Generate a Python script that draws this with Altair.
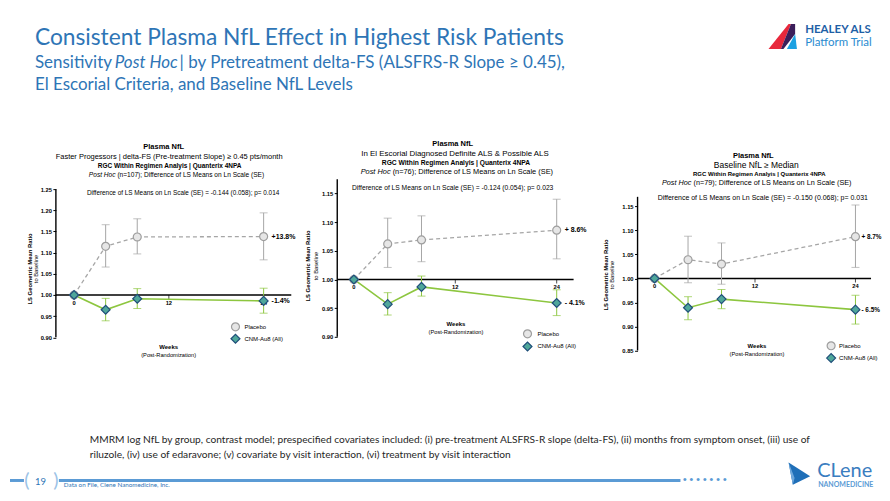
import altair as alt
import pandas as pd

FONT = "Liberation Sans"
HFONT = "Lato"
BLUE = "#2E75B6"
GRAY = "#A6A6A6"
GREEN = "#8DC63F"

weeks = [0, 4, 8, 24]
x_tick_values = [0, 12, 24]

# Panel 1: faster progressors
p1_pbo = [1.000, 1.115, 1.137, 1.138]
p1_pbo_lo = [1.000, 1.066, 1.097, 1.083]
p1_pbo_hi = [1.000, 1.166, 1.180, 1.194]
p1_cnm = [1.000, 0.965, 0.991, 0.986]
p1_cnm_lo = [1.000, 0.939, 0.968, 0.957]
p1_cnm_hi = [1.000, 0.992, 1.015, 1.016]

# Panel 2: El Escorial definite & possible
p2_pbo = [1.000, 1.062, 1.069, 1.086]
p2_pbo_lo = [1.000, 1.021, 1.031, 1.036]
p2_pbo_hi = [1.000, 1.107, 1.111, 1.140]
p2_cnm = [1.000, 0.957, 0.987, 0.959]
p2_cnm_lo = [1.000, 0.938, 0.971, 0.937]
p2_cnm_hi = [1.000, 0.977, 1.006, 0.982]

# Panel 3: baseline NfL >= median
p3_pbo = [1.000, 1.039, 1.030, 1.087]
p3_pbo_lo = [1.000, 0.991, 0.988, 1.023]
p3_pbo_hi = [1.000, 1.088, 1.074, 1.153]
p3_cnm = [1.000, 0.939, 0.957, 0.935]
p3_cnm_lo = [1.000, 0.914, 0.937, 0.905]
p3_cnm_hi = [1.000, 0.962, 0.977, 0.965]

p1_ticks = [0.90, 0.95, 1.00, 1.05, 1.10, 1.15, 1.20, 1.25]
p2_ticks = [0.90, 0.95, 1.00, 1.05, 1.10, 1.15]
p3_ticks = [0.85, 0.90, 0.95, 1.00, 1.05, 1.10, 1.15]

pct_labels = [["+13.8%", "-1.4%"], ["+ 8.6%", "- 4.1%"], ["+ 8.7%", "- 6.5%"]]
subtitles = ["Faster Progessors | delta-FS (Pre-treatment Slope) \u2265 0.45 pts/month",
             "In El Escorial Diagnosed Definite ALS & Possible ALS",
             "Baseline NfL \u2265 Median"]
n_values = ["107", "76", "79"]
diff_texts = ["Difference of LS Means on Ln Scale (SE) = -0.144 (0.058); p= 0.014",
              "Difference of LS Means on Ln Scale (SE) = -0.124 (0.054); p= 0.023",
              "Difference of LS Means on Ln Scale (SE) = -0.150 (0.068); p= 0.031"]

# Arial / Liberation Sans advance widths (per 1000 em) for centering mixed-style lines
_W = {' ': 278, '(': 333, ')': 333, ',': 278, '-': 333, '.': 278, '/': 278, ';': 278,
      ':': 278, '=': 584, '|': 260, '&': 667, '%': 889, '+': 584}
for ch, w in zip("ABCDEFGHIJKLMNOPQRSTUVWXYZ",
                 [667, 667, 722, 722, 667, 611, 778, 722, 278, 500, 667, 556, 833, 722, 778,
                  667, 778, 722, 667, 611, 722, 667, 944, 667, 667, 611]):
    _W[ch] = w
for ch, w in zip("abcdefghijklmnopqrstuvwxyz",
                 [556, 556, 500, 556, 556, 278, 556, 556, 222, 222, 500, 222, 833, 556, 556,
                  556, 556, 333, 500, 278, 556, 500, 722, 500, 500, 500]):
    _W[ch] = w
for ch in "0123456789":
    _W[ch] = 556


def aw(s, size):
    return sum(_W.get(ch, 556) for ch in s) * size / 1000.0


def txt(text, x, y, size, color="black", weight="normal", style="normal", align="left",
        baseline="middle", font=FONT, angle=None):
    kw = dict(fontSize=size, color=color, fontWeight=weight, fontStyle=style, align=align,
              baseline=baseline, font=font)
    if angle is not None:
        kw["angle"] = angle
    return alt.Chart(pd.DataFrame({"t": [text]})).mark_text(**kw).encode(
        x=alt.value(x), y=alt.value(y), text="t:N")


def shape(path, x, y, size, color):
    return alt.Chart(pd.DataFrame({"s": [0]})).mark_point(
        shape=path, filled=True, size=size, color=color, opacity=1, strokeWidth=0
    ).encode(x=alt.value(x), y=alt.value(y))


def hrule(x1, x2, y, color, width):
    return alt.Chart(pd.DataFrame({"s": [0]})).mark_rule(color=color, strokeWidth=width).encode(
        x=alt.value(x1), x2=alt.value(x2), y=alt.value(y))


# all panel views share the same top edge (slide y = 179); local coordinates below
PANELS = [
    dict(pbo=p1_pbo, pbo_lo=p1_pbo_lo, pbo_hi=p1_pbo_hi, cnm=p1_cnm, cnm_lo=p1_cnm_lo, cnm_hi=p1_cnm_hi,
         W=282, H=158.5, ydom=[0.90, 1.2736], ytop=1.25, yticks=p1_ticks, xdom=[-2.30, 33.32], xrule=27.5,
         cxs=[108, 113.5, 114, 121], ty=[-32, -22, -13.5, -4.5], tsz=[7.5, 7.5, 6.5, 6.6],
         dxy=(127.5, 13.4), dsz=6.4,
         wk=(113, 168), post=(113, 176), leg=(180, 148, 160, 189), yt=(-26, -19.5, 90), pdx=8, psz=7),
    dict(pbo=p2_pbo, pbo_lo=p2_pbo_lo, pbo_hi=p2_pbo_hi, cnm=p2_cnm, cnm_lo=p2_cnm_lo, cnm_hi=p2_cnm_hi,
         W=301, H=158, ydom=[0.90, 1.175], ytop=1.175, yticks=p2_ticks, xdom=[-1.97, 33.57], xrule=26.0,
         cxs=[115.7, 118, 119, 120], ty=[-35.7, -25, -16.3, -7.3], tsz=[7.5, 7.9, 6.7, 7.4],
         dxy=(115.7, 9.3), dsz=6.7,
         wk=(119, 145), post=(119, 153.3), leg=(190.7, 155, 167.7, 200.7), yt=(-29, -21, 87), pdx=8, psz=7),
    dict(pbo=p3_pbo, pbo_lo=p3_pbo_lo, pbo_hi=p3_pbo_hi, cnm=p3_cnm, cnm_lo=p3_cnm_lo, cnm_hi=p3_cnm_hi,
         W=234, H=171.7, ydom=[0.85, 1.2068], ytop=1.17, yticks=p3_ticks, xdom=[-2.03, 25.86], xrule=25.86,
         cxs=[116, 119, 122, 119.7], ty=[-23.5, -14, -5, 4], tsz=[7.5, 8.5, 6.0, 7.3],
         dxy=(125.5, 18.7), dsz=7.0,
         wk=(119.7, 167), post=(119.7, 175), leg=(194, 167, 179.3, 202), yt=(-32, -26, 96), pdx=6, psz=6.4),
]


def make_panel(i):
    c = PANELS[i]
    df = pd.DataFrame({"week": weeks + weeks,
                       "grp": ["pbo"] * 4 + ["cnm"] * 4,
                       "mean": c["pbo"] + c["cnm"],
                       "lo": c["pbo_lo"] + c["cnm_lo"],
                       "hi": c["pbo_hi"] + c["cnm_hi"]})
    xs = alt.Scale(domain=c["xdom"], nice=False, zero=False)
    ys = alt.Scale(domain=c["ydom"], nice=False, zero=False)
    yax = alt.Axis(values=c["yticks"], format=".2f", labelFont=FONT, labelFontSize=5.8,
                   labelFontWeight="bold", labelColor="black", labelPadding=1.5, labelFlush=False,
                   labelOverlap=False, domain=False, tickColor="black",
                   tickSize=3, tickWidth=1, grid=False, title=None)

    def X(f):
        return alt.X(f + ":Q", scale=xs, axis=None)

    def Y(f):
        return alt.Y(f + ":Q", scale=ys, axis=yax)

    base = alt.Chart(df)
    pbo = base.transform_filter("datum.grp == 'pbo'")
    cnm = base.transform_filter("datum.grp == 'cnm'")
    pbo_e = pbo.transform_filter("datum.week > 0")
    cnm_e = cnm.transform_filter("datum.week > 0")

    rule_df = pd.DataFrame({"x0": [c["xdom"][0]], "x1": [c["xrule"]], "y": [1.0]})
    yline_df = pd.DataFrame({"x0": [c["xdom"][0]], "y0": [c["ydom"][0]], "y1": [c["ytop"]]})
    tick_df = pd.DataFrame({"week": x_tick_values, "y": [1.0] * 3,
                            "lab": [str(v) for v in x_tick_values]})
    lab_df = pd.DataFrame({"week": [24, 24], "mean": [c["pbo"][3], c["cnm"][3]],
                           "lab": pct_labels[i]})

    layers = [
        alt.Chart(yline_df).mark_rule(color="black", strokeWidth=1.4).encode(
            x=X("x0"), y=Y("y0"), y2="y1:Q"),
        alt.Chart(rule_df).mark_rule(color="black", strokeWidth=1.4).encode(
            x=X("x0"), x2="x1:Q", y=Y("y")),
        alt.Chart(tick_df).mark_tick(orient="vertical", size=4, thickness=1, color="black",
                                     yOffset=2).encode(x=X("week"), y=Y("y")),
        alt.Chart(tick_df).mark_text(dy=8, font=FONT, fontSize=5.8, fontWeight="bold",
                                     color="black").encode(x=X("week"), y=Y("y"), text="lab:N"),
        pbo_e.mark_rule(color=GRAY, strokeWidth=1).encode(x=X("week"), y=Y("lo"), y2="hi:Q"),
        pbo_e.mark_tick(orient="horizontal", size=8, thickness=1, color=GRAY).encode(x=X("week"), y=Y("lo")),
        pbo_e.mark_tick(orient="horizontal", size=8, thickness=1, color=GRAY).encode(x=X("week"), y=Y("hi")),
        cnm_e.mark_rule(color=GREEN, strokeWidth=1).encode(x=X("week"), y=Y("lo"), y2="hi:Q"),
        cnm_e.mark_tick(orient="horizontal", size=8, thickness=1, color=GREEN).encode(x=X("week"), y=Y("lo")),
        cnm_e.mark_tick(orient="horizontal", size=8, thickness=1, color=GREEN).encode(x=X("week"), y=Y("hi")),
        pbo.mark_line(color=GRAY, strokeDash=[4, 3], strokeWidth=1.3).encode(x=X("week"), y=Y("mean")),
        cnm.mark_line(color=GREEN, strokeWidth=1.6).encode(x=X("week"), y=Y("mean")),
        pbo.mark_point(shape="circle", filled=True, size=64, fill="#E6E6E6", stroke="#9E9E9E",
                       strokeWidth=1.2, opacity=1).encode(x=X("week"), y=Y("mean")),
        cnm.mark_point(shape="diamond", filled=True, size=80, fill="#4FA79A", stroke="#1F4E79",
                       strokeWidth=1.2, opacity=1).encode(x=X("week"), y=Y("mean")),
        alt.Chart(lab_df).mark_text(align="left", dx=c["pdx"], font=FONT, fontSize=c["psz"],
                                    fontWeight="bold", color="black").encode(
            x=X("week"), y=Y("mean"), text="lab:N"),
        txt(diff_texts[i], c["dxy"][0], c["dxy"][1], c["dsz"], align="center"),
        txt("Weeks", c["wk"][0], c["wk"][1], 6, weight="bold", align="center"),
        txt("(Post-Randomization)", c["post"][0], c["post"][1], 5.7, align="center"),
        txt("LS Geometric Mean Ratio", c["yt"][0], c["yt"][2], 5.9, weight="bold",
            align="center", angle=270),
        txt("to Baseline", c["yt"][1], c["yt"][2], 5.8, align="center", angle=270),
    ]
    lx, ly1, ly2, ltx = c["leg"]
    leg1 = alt.Chart(pd.DataFrame({"s": [0]})).mark_point(
        shape="circle", filled=True, size=64, fill="#E6E6E6", stroke="#9E9E9E", strokeWidth=1.2,
        opacity=1).encode(x=alt.value(lx), y=alt.value(ly1))
    leg2 = alt.Chart(pd.DataFrame({"s": [0]})).mark_point(
        shape="diamond", filled=True, size=80, fill="#4FA79A", stroke="#1F4E79", strokeWidth=1.2,
        opacity=1).encode(x=alt.value(lx), y=alt.value(ly2))
    layers += [leg1, leg2, txt("Placebo", ltx, ly1, 6), txt("CNM-Au8 (All)", ltx, ly2, 6)]

    # panel title block (above the view)
    c1, c2, c3, c4 = c["cxs"]
    s1, s2, s3, s4 = c["tsz"]
    rest = "(n=" + n_values[i] + "); Difference of LS Means on Ln Scale (SE)"
    full_w = aw("Post Hoc " + rest, s4)
    x0 = c4 - full_w / 2.0
    x1 = x0 + aw("Post Hoc ", s4)
    layers += [
        txt("Plasma NfL", c1, c["ty"][0], s1, weight="bold", align="center"),
        txt(subtitles[i], c2, c["ty"][1], s2, align="center"),
        txt("RGC Within Regimen Analyis | Quanterix 4NPA", c3, c["ty"][2], s3, weight="bold",
            align="center"),
        txt("Post Hoc", x0, c["ty"][3], s4, style="italic"),
        txt(rest, x1, c["ty"][3], s4),
    ]
    return alt.layer(*layers).properties(width=c["W"], height=c["H"])


# ---------- slide frame (left column; local origin = slide (8, 179)) ----------
OY = 179
frame = alt.layer(
    hrule(0, 1, 8 - OY + 0.5, "white", 1),  # anchors the slide's top-left corner
    # header
    txt("Consistent Plasma NfL Effect in Highest Risk Patients", 25, 38 - OY, 22.8, color=BLUE, font=HFONT),
    txt("Sensitivity", 25, 63 - OY, 17, color=BLUE, font=HFONT),
    txt("Post Hoc", 105, 63 - OY, 17, color=BLUE, font=HFONT, style="italic"),
    txt("| by Pretreatment delta-FS (ALSFRS-R Slope \u2265 0.45),", 170, 63 - OY, 17, color=BLUE, font=HFONT),
    txt("El Escorial Criteria, and Baseline NfL Levels", 25, 85 - OY, 17, color=BLUE, font=HFONT),
    shape("M -0.95 0.83 L 0.39 -0.83 L 0.55 -0.83 L -0.12 0.83 Z", 774.5, 36 - OY, 900, "#E8283C"),
    shape("M 0.55 -0.83 L 0.83 -0.83 L 0.83 -0.17 L 0.05 0.83 L -0.12 0.83 Z", 774.5, 36 - OY, 900, "#3B1E5A"),
    shape("M 0.28 0.83 L 0.83 -0.17 L 0.95 0.83 Z", 774.5, 36 - OY, 900, "#1BA1E2"),
    txt("HEALEY ALS", 797, 30 - OY, 11.5, color="#1F5FA6", weight="bold", font=HFONT),
    txt("Platform Trial", 797, 43 - OY, 11.5, color="#2A8BD0", font=HFONT),
    # footer
    txt("MMRM log NfL by group, contrast model; prespecified covariates included: (i) pre-treatment "
        "ALSFRS-R slope (delta-FS), (ii) months from symptom onset, (iii) use of",
        80, 440 - OY, 10.2, color="#262626", font=HFONT),
    txt("riluzole, (iv) use of edaravone; (v) covariate by visit interaction, (vi) treatment by "
        "visit interaction", 80, 455 - OY, 10.2, color="#262626", font=HFONT),
    hrule(0, 14, 481 - OY, "#5B9BD5", 3),
    hrule(49, 672, 481 - OY, "#5B9BD5", 3),
    txt("\u2022  \u2022  \u2022  \u2022  \u2022  \u2022  \u2022", 674, 481 - OY, 8, color="#5B9BD5", font=HFONT),
    txt("(", 17, 482 - OY, 20, color="#9DC3E6", font=HFONT, align="center"),
    txt(")", 46, 482 - OY, 20, color="#9DC3E6", font=HFONT, align="center"),
    txt("19", 30.5, 483 - OY, 9.5, color=BLUE, font=HFONT, align="center"),
    txt("Data on File, Clene Nanomedicine, Inc.", 54, 485.5 - OY, 6.3, color=BLUE, font=HFONT),
    shape("M -0.8 -1 L 1 0.15 L -0.45 0.85 Z", 790, 475 - OY, 576, "#1F6FB8"),
    shape("M -0.8 -1 L -0.3 0.3 L -0.45 0.85 Z", 790, 475 - OY, 576, "#6FA8DC"),
    txt("CLene", 809, 471.5 - OY, 20, color="#3A7DC0", font=HFONT),
    txt("NANOMEDICINE", 810, 485.5 - OY, 7, color="#5B9BD5", weight="bold", font=HFONT),
).properties(width=46, height=1)

chart = alt.hconcat(frame, make_panel(0), make_panel(1), make_panel(2), spacing=0,
                    bounds="flush").properties(padding=0, background="white").configure_view(strokeWidth=0)

chart.save("out.html", embed_options={"renderer": "svg", "actions": False})
